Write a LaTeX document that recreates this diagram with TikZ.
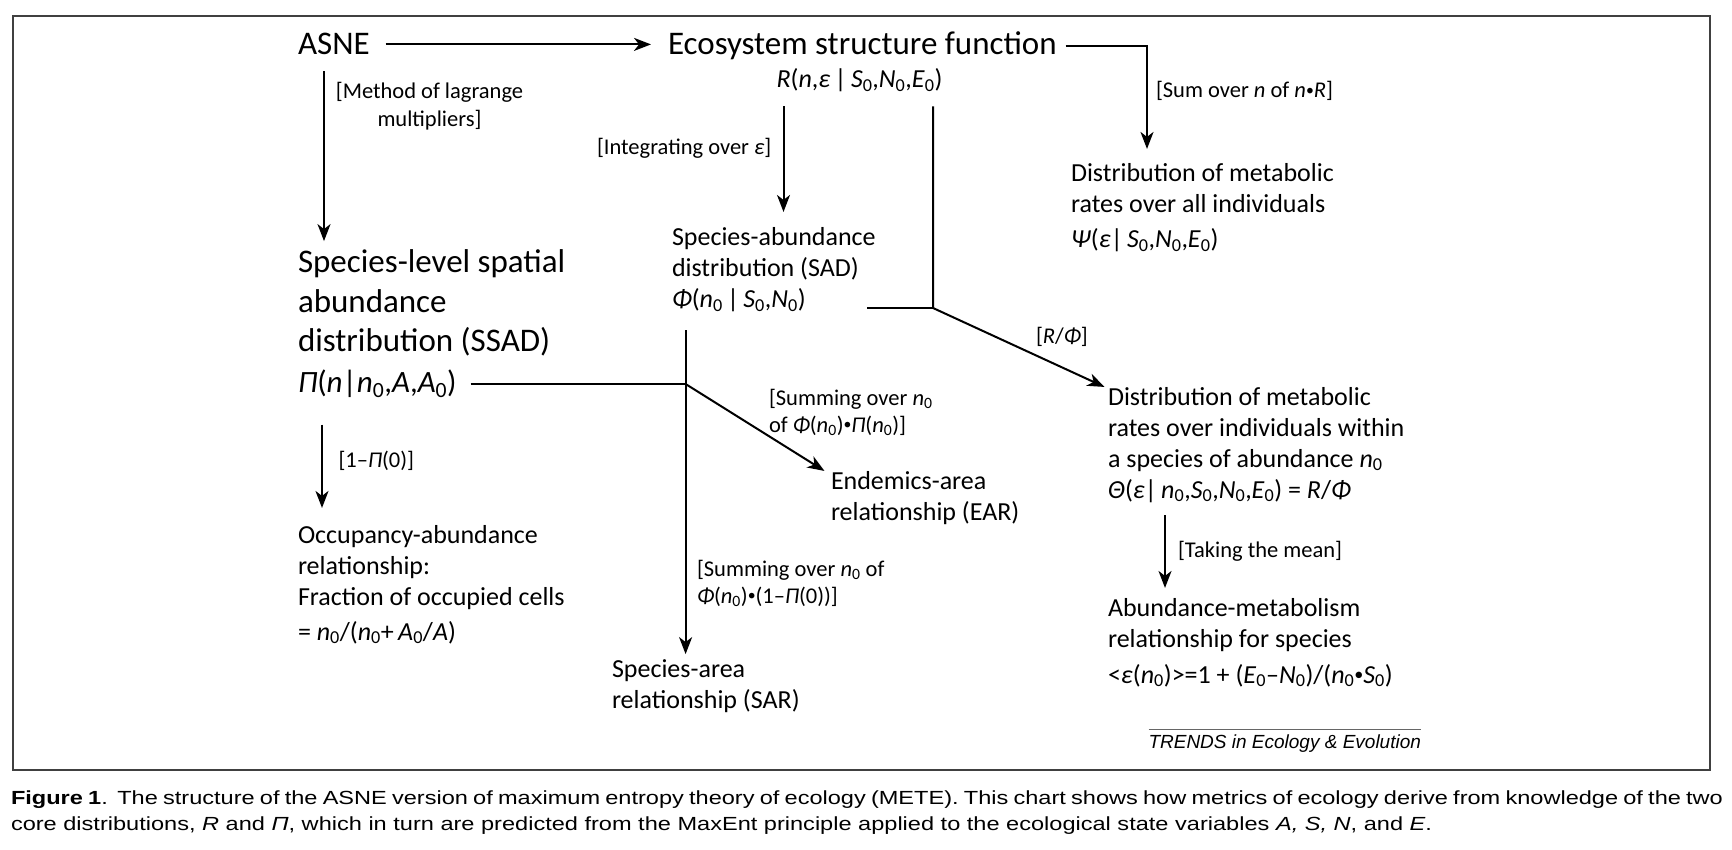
\documentclass[tikz,border=0pt]{standalone}
\usepackage{fontspec}
\setmainfont{Carlito}
\newfontfamily\capfont[FakeStretch=1.24]{Liberation Sans}
\newfontfamily\trendsfont{Liberation Sans}
\usetikzlibrary{arrows.meta}
\newcommand\bigtxt{\fontsize{33}{39.5}\selectfont}
\newcommand\pitxt{\fontsize{31}{39.5}\selectfont}
\newcommand\midtxt{\fontsize{26}{31}\selectfont}
\newcommand\lbltxt{\fontsize{22.5}{26.5}\selectfont}
\newcommand\captxt{\capfont\fontsize{19}{26}\selectfont}
\newcommand\nz{\textsubscript{0}}
\newcommand\bul{\raisebox{0.1em}{\scalebox{0.7}{•}}}

\begin{document}
\begin{tikzpicture}[x=1pt,y=-1pt,
	every node/.style={inner sep=0pt,outer sep=0pt,anchor=base west,align=left},
	bigbox/.style={font=\bigtxt},
	midbox/.style={font=\midtxt},
	lblbox/.style={font=\lbltxt},
	arr/.style={line width=2pt,-{Stealth[length=17pt,width=13pt,inset=5pt]}},
	link/.style={line width=2pt}]
			%%%%% START %%%%%
			\useasboundingbox (0,0) rectangle (1732,850);
			\draw[line width=2pt,black!75] (13,16) rectangle (1710,770);
			
			\coordinate (j1) at (933,308);
			\coordinate (j2) at (685.6,384);
			
			%top row (multi-line nodes sit on their last line)
			\node[bigbox] (asne) at (298,55) {ASNE};
			\node[bigbox] (esf) at (668,55) {Ecosystem structure function};
			\node[midbox,anchor=base] (rfun) at (859.5,88) {\textit{R}(\textit{n},\textit{ε}\,|\,\textit{S}\nz,\textit{N}\nz,\textit{E}\nz)};
			\node[lblbox,anchor=base,align=center] (lagr) at (429.5,127) {[Method of lagrange\\[1.5pt]multipliers]};
			\node[lblbox] (integ) at (597,155) {[Integrating over \textit{ε}]};
			\node[lblbox] (sumR) at (1156,98) {[Sum over \textit{n} of \textit{n}\bul\textit{R}]};
			\node[midbox] (psi) at (1071,248) {Distribution of metabolic\\rates over all individuals\\[4pt]\textit{Ψ}(\textit{ε}|\,\textit{S}\nz,\textit{N}\nz,\textit{E}\nz)};
			
			%middle
			\node[midbox] (sad) at (672,308) {Species-abundance\\distribution (SAD)\\\textit{Φ}(\textit{n}\nz\,|\,\textit{S}\nz,\textit{N}\nz)};
			\node[bigbox] (ssad) at (298,352) {Species-level spatial\\abundance\\distribution (SSAD)};
			\node[font=\pitxt] (pifun) at (298,392) {\textit{Π}(\textit{n}|\textit{n}\nz,\textit{A},\textit{A}\nz)};
			\node[lblbox] (rphi) at (1036,343) {[\textit{R}/\textit{Φ}]};
			\node[midbox] (theta) at (1108,498) {Distribution of metabolic\\rates over individuals within\\a species of abundance \textit{n}\nz\\\textit{Θ}(\textit{ε}|\,\textit{n}\nz,\textit{S}\nz,\textit{N}\nz,\textit{E}\nz) = \textit{R}/\textit{Φ}};
			\node[lblbox] (sumEAR) at (769,432) {[Summing over \textit{n}\nz\\of \textit{Φ}(\textit{n}\nz)\bul\textit{Π}(\textit{n}\nz)]};
			\node[midbox] (ear) at (831,520) {Endemics-area\\relationship (EAR)};
			\node[lblbox] (onepi) at (338.5,467) {[1–\textit{Π}(0)]};
			
			%bottom
			\node[midbox] (occ) at (298,640) {Occupancy-abundance\\relationship:\\Fraction of occupied cells\\[4pt] = \textit{n}\nz/(\textit{n}\nz+\,\textit{A}\nz/\textit{A})};
			\node[lblbox] (sumSAR) at (697,603) {[Summing over \textit{n}\nz{} of\\\textit{Φ}(\textit{n}\nz)\bul(1–\textit{Π}(0))]};
			\node[midbox] (sar) at (612,708) {Species-area\\relationship (SAR)};
			\node[lblbox] (mean) at (1178,557) {[Taking the mean]};
			\node[midbox] (amr) at (1108,683) {Abundance-metabolism\\relationship for species\\[5pt]<\textit{ε}(\textit{n}\nz)>=1 + (\textit{E}\nz–\textit{N}\nz)/(\textit{n}\nz\bul\textit{S}\nz)};
			
			\node[font=\trendsfont\fontsize{19}{22}\selectfont\itshape] (trends) at (1148.5,748) {TRENDS in Ecology \& Evolution};
			\draw[line width=1pt,black!60] ([yshift=5pt]trends.north west) -- ([yshift=5pt]trends.north east);
			
			%arrows
			\draw[arr] ([xshift=16pt]asne.east) -- ([xshift=-17pt]asne.east -| esf.west);
			\draw[arr] ([xshift=26pt,yshift=-16pt]asne.south west) -- ([xshift=26pt,yshift=9pt]ssad.north west);
			\draw[arr] ([xshift=9pt]esf.east) -| ([xshift=76pt,yshift=15pt]psi.north west);
			\draw[arr] ([xshift=111.5pt,yshift=-14pt]sad.north west |- rfun.south) -- ([xshift=111.5pt,yshift=16pt]sad.north west);
			\draw[arr] ([yshift=-14pt]j1 |- rfun.south) -- (j1) -- ([xshift=-3.5pt]theta.north west);
			\draw[link] (j1) -- ([xshift=-9pt]j1 -| sad.east);
			\draw[link] ([xshift=14pt]j2 -| pifun.east) -- (j2);
			\draw[arr] ([yshift=-18pt]j2 |- sad.south) -- ([yshift=5pt]j2 |- sar.north);
			\draw[arr] (j2) -- ([xshift=-6.5pt]ear.north west);
			\draw[arr] ([xshift=24pt,yshift=-27pt]pifun.south west) -- ([xshift=24pt,yshift=17pt]occ.north west);
			\draw[arr] ([xshift=57pt,yshift=-13pt]theta.south west) -- ([xshift=57pt,yshift=10pt]amr.north west);
			
			%caption
			\node[font=\captxt,text width=1712pt,align=justify] (capt) at (11,804) {\textbf{Figure 1}.\enspace The structure of the ASNE version of maximum entropy theory of ecology (METE). This chart shows how metrics of ecology derive from knowledge of the two\linebreak core distributions, \textit{R} and \textit{Π}, which in turn are predicted from the MaxEnt principle applied to the ecological state variables \textit{A, S, N}, and \textit{E}.};
			%%%%% START %%%%%
\end{tikzpicture}
\end{document}
